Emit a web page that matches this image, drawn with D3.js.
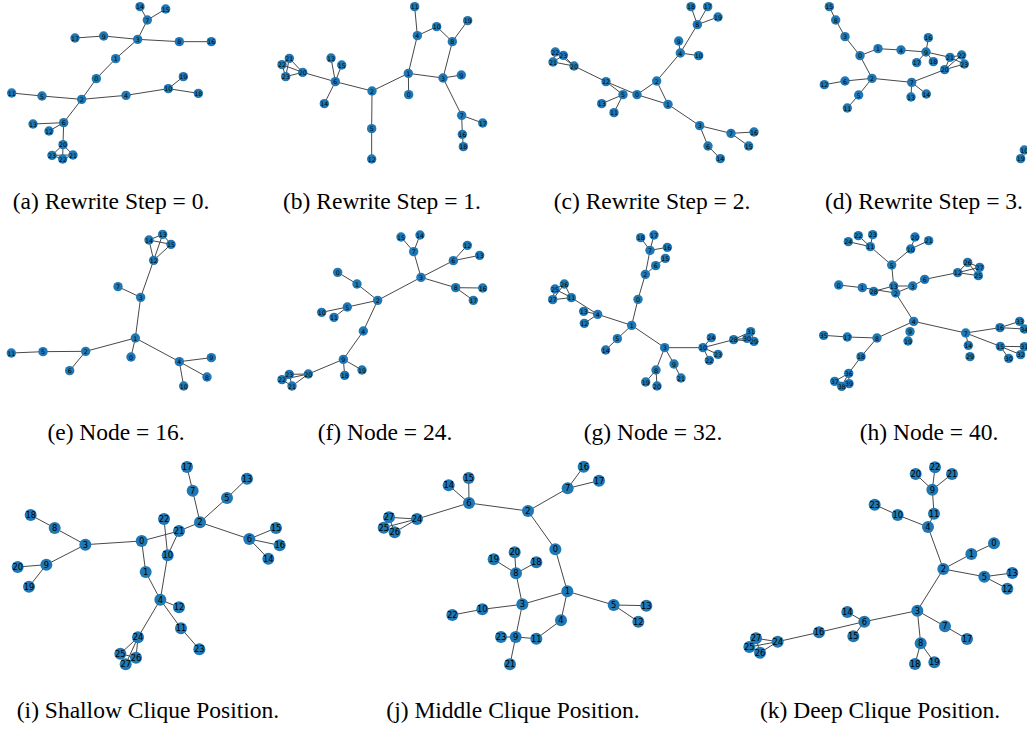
<!DOCTYPE html>
<html>
<head>
<meta charset="utf-8">
<script src="https://cdn.jsdelivr.net/npm/d3@7"></script>
<style>
    body { margin: 0; background: #fff; }
    svg { display: block; }
    .edge { stroke: #484848; stroke-width: 1; }
    .node circle { fill: #1f78b4; }
    .node text { font-family: "DejaVu Sans", sans-serif; fill: #000; text-anchor: middle; dominant-baseline: central; }
    .caption { font-family: "Liberation Serif", "Times New Roman", serif; font-size: 23.5px; fill: #000; text-anchor: middle; }
</style>
</head>
<body>
<script>
// node = [id, x, y] in layout units, edge = [source, target]
const nodesA = [[14,420,20],[15,497,27],[7,442,60],[17,225,114],[9,311,108],[3,413,118],[8,538,125],[16,634,125],[1,347,176],[0,289,236],[19,550,230],[10,505,266],[18,595,280],[11,35,279],[5,126,288],[2,245,298],[4,378,286],[13,99,372],[6,191,368],[12,147,393],[20,189,434],[23,156,466],[22,188,477],[21,219,465]];
const edgesA = [[14,7],[15,7],[7,3],[17,9],[9,3],[3,8],[8,16],[3,1],[1,0],[0,2],[11,5],[5,2],[2,4],[4,10],[10,19],[10,18],[2,6],[6,13],[6,12],[6,20],[20,21],[20,22],[20,23],[21,22],[21,23],[22,23]];

const nodesB = [[11,464,20],[19,623,62],[10,530,80],[4,472,107],[8,577,125],[21,88,175],[22,66,194],[23,77,230],[20,128,217],[13,213,174],[15,245,195],[6,226,245],[1,445,220],[3,549,234],[9,604,225],[2,336,273],[0,446,284],[14,193,311],[7,605,346],[17,668,369],[5,335,386],[16,607,403],[18,610,440],[12,335,477]];
const edgesB = [[11,4],[4,10],[10,8],[8,19],[8,3],[4,1],[1,3],[3,9],[1,0],[1,2],[2,6],[2,5],[5,12],[6,13],[6,15],[6,14],[6,20],[20,21],[20,22],[20,23],[21,22],[21,23],[22,23],[3,7],[7,17],[7,16],[16,18]];

const nodesC = [[18,483,20],[17,533,20],[8,502,74],[19,564,51],[9,446,123],[4,451,159],[10,506,167],[22,76,156],[23,100,166],[21,69,186],[20,132,198],[12,228,245],[2,380,243],[5,279,284],[0,321,284],[13,215,311],[1,414,313],[11,252,338],[3,509,377],[7,603,400],[16,672,396],[6,534,438],[15,656,438],[14,571,476]];
const edgesC = [[18,8],[17,8],[19,8],[8,4],[4,9],[4,10],[4,2],[2,0],[2,1],[0,1],[12,20],[12,0],[12,5],[5,13],[5,11],[1,3],[3,7],[3,6],[7,16],[7,15],[6,14],[20,21],[20,22],[20,23],[21,22],[21,23],[22,23]];

const nodesD = [[15,118,20],[8,137,60],[3,165,110],[0,210,167],[1,264,146],[4,333,150],[16,415,113],[9,408,156],[17,380,188],[18,430,185],[21,480,172],[22,515,165],[23,523,192],[20,464,209],[2,246,235],[6,165,243],[12,103,254],[7,365,247],[14,409,282],[13,363,291],[5,206,285],[11,172,324],[10,703,450],[19,692,476]];
const edgesD = [[15,8],[8,3],[3,0],[0,1],[1,4],[4,9],[9,16],[9,17],[9,18],[9,21],[0,2],[2,6],[6,12],[2,5],[5,11],[2,7],[7,13],[7,14],[7,20],[20,21],[20,22],[20,23],[21,22],[21,23],[22,23],[10,19]];

const nodesE = [[13,488,28],[14,447,45],[15,513,58],[12,461,106],[7,354,185],[3,422,217],[1,406,339],[0,393,396],[11,34,384],[5,129,380],[2,257,379],[6,209,437],[4,538,410],[9,634,398],[8,621,456],[10,551,483]];
const edgesE = [[12,13],[12,14],[12,15],[13,14],[13,15],[14,15],[12,3],[3,7],[3,1],[1,0],[1,2],[2,5],[5,11],[2,6],[1,4],[4,9],[4,8],[4,10]];

const nodesF = [[15,423,36],[14,480,30],[7,461,80],[12,622,61],[6,580,107],[13,659,91],[0,233,142],[3,483,157],[1,291,177],[8,587,188],[16,668,189],[17,640,226],[2,353,226],[5,262,246],[10,185,262],[11,222,277],[4,310,318],[9,250,403],[19,306,435],[18,254,451],[20,145,447],[23,88,448],[22,66,464],[21,96,483]];
const edgesF = [[15,7],[14,7],[7,3],[3,6],[6,12],[6,13],[3,8],[8,16],[8,17],[3,2],[2,1],[1,0],[2,5],[5,10],[5,11],[2,4],[4,9],[9,19],[9,18],[9,20],[20,21],[20,22],[20,23],[21,22],[21,23],[22,23]];

const nodesG = [[18,332,38],[17,372,30],[7,360,76],[16,412,67],[15,406,100],[6,377,122],[2,346,148],[26,103,177],[25,75,192],[11,124,218],[27,68,224],[0,324,223],[13,161,259],[4,203,268],[12,163,295],[1,305,301],[5,262,341],[24,544,338],[31,662,320],[28,611,344],[30,651,340],[29,672,349],[14,227,375],[3,404,368],[10,519,368],[23,564,388],[22,538,406],[9,432,417],[8,378,435],[21,453,459],[19,347,471],[20,381,483]];
const edgesG = [[18,7],[17,7],[16,7],[7,2],[2,6],[6,15],[2,0],[0,1],[1,4],[4,13],[4,12],[4,11],[11,25],[11,26],[11,27],[25,26],[25,27],[26,27],[1,5],[5,14],[1,3],[3,10],[3,8],[3,9],[9,21],[8,19],[8,20],[10,24],[10,23],[10,22],[10,28],[28,29],[28,30],[28,31],[29,30],[29,31],[30,31]];

const nodesH = [[24,175,50],[22,205,32],[23,248,29],[11,241,65],[20,375,36],[21,416,47],[10,362,72],[5,305,120],[26,533,112],[27,569,127],[25,565,152],[12,503,143],[6,404,163],[0,146,180],[1,217,188],[13,311,183],[3,368,183],[28,251,199],[2,317,204],[4,371,289],[9,360,320],[19,354,348],[35,101,331],[17,172,336],[8,261,339],[7,527,324],[16,630,308],[33,689,289],[34,703,312],[14,535,361],[15,631,364],[31,703,365],[32,692,389],[29,540,395],[30,656,400],[18,213,395],[36,176,445],[37,134,469],[38,155,484],[39,177,476]];
const edgesH = [[24,11],[22,11],[23,11],[11,5],[5,10],[10,20],[10,21],[5,13],[13,2],[2,4],[0,1],[1,2],[28,13],[13,3],[3,6],[2,3],[6,12],[12,26],[12,27],[12,25],[26,27],[26,25],[27,25],[4,8],[8,17],[17,35],[8,18],[18,36],[36,37],[36,38],[36,39],[37,38],[37,39],[38,39],[4,7],[7,16],[7,15],[7,14],[16,33],[16,34],[33,34],[15,31],[15,32],[15,30],[31,32]];

const nodesI = [[17,561,36],[13,741,71],[7,578,107],[5,681,129],[18,92,180],[22,492,192],[2,600,202],[8,164,219],[15,828,219],[21,537,228],[6,748,252],[0,425,258],[3,256,269],[16,839,271],[10,503,301],[14,805,311],[20,53,336],[9,139,329],[1,437,351],[19,87,395],[4,481,434],[12,537,457],[11,543,520],[24,414,547],[25,361,596],[26,408,608],[27,377,628],[23,598,583]];
const edgesI = [[17,7],[7,2],[13,5],[5,2],[2,21],[21,0],[0,3],[3,8],[8,18],[3,9],[9,20],[9,19],[2,6],[6,15],[6,16],[6,14],[0,1],[1,4],[4,10],[10,21],[10,22],[4,12],[4,11],[11,23],[4,24],[24,25],[24,26],[24,27],[25,26],[25,27],[26,27]];

const nodesJ = [[16,761,35],[15,416,69],[14,356,91],[17,807,77],[7,713,100],[6,417,144],[2,594,168],[27,177,187],[24,261,192],[25,161,218],[26,194,232],[0,676,283],[20,554,292],[19,491,313],[18,619,322],[8,558,355],[1,712,409],[3,577,448],[5,851,450],[13,949,452],[10,457,463],[22,367,480],[4,693,496],[12,925,500],[23,513,546],[9,557,546],[11,619,551],[21,540,628]];
const edgesJ = [[16,7],[17,7],[7,2],[2,6],[6,14],[6,15],[6,24],[24,25],[24,26],[24,27],[25,26],[25,27],[26,27],[2,0],[0,1],[1,3],[1,5],[5,13],[5,12],[1,4],[4,11],[11,9],[9,3],[9,23],[9,21],[3,8],[8,19],[8,20],[8,18],[3,10],[10,22]];

const nodesK = [[22,645,37],[20,587,57],[21,696,57],[9,637,104],[23,464,149],[11,642,176],[10,533,180],[4,624,216],[0,822,265],[1,754,297],[2,670,342],[13,877,354],[5,793,365],[12,862,401],[14,382,471],[3,592,467],[6,433,500],[7,675,514],[16,297,532],[15,400,544],[17,741,552],[27,108,550],[24,173,560],[25,88,576],[8,602,565],[26,120,593],[18,585,627],[19,643,622]];
const edgesK = [[22,9],[20,9],[21,9],[9,11],[11,4],[4,10],[10,23],[4,2],[2,1],[1,0],[2,5],[5,13],[5,12],[2,3],[3,6],[6,14],[6,15],[6,16],[16,24],[24,25],[24,26],[24,27],[25,26],[25,27],[26,27],[3,7],[7,17],[3,8],[8,18],[8,19]];

const captions = [
    '(a) Rewrite Step = 0.', '(b) Rewrite Step = 1.', '(c) Rewrite Step = 2.', '(d) Rewrite Step = 3.',
    '(e) Node = 16.', '(f) Node = 24.', '(g) Node = 32.', '(h) Node = 40.',
    '(i) Shallow Clique Position.', '(j) Middle Clique Position.', '(k) Deep Clique Position.'
];

// panel boxes on the page; layout units are 3x page pixels
let panels = [
    {nodes: nodesA, edges: edgesA, x0: 0,   y0: 0,   w: 230, h: 170, r: 4.7, fs: 6.3, cx: 111, cy: 209},
    {nodes: nodesB, edges: edgesB, x0: 260, y0: 0,   w: 240, h: 170, r: 4.7, fs: 6.3, cx: 382, cy: 209},
    {nodes: nodesC, edges: edgesC, x0: 530, y0: 0,   w: 240, h: 170, r: 4.7, fs: 6.3, cx: 652, cy: 209},
    {nodes: nodesD, edges: edgesD, x0: 790, y0: 0,   w: 237, h: 170, r: 4.7, fs: 6.3, cx: 924, cy: 209},
    {nodes: nodesE, edges: edgesE, x0: 0,   y0: 225, w: 230, h: 170, r: 4.7, fs: 6.3, cx: 116, cy: 440},
    {nodes: nodesF, edges: edgesF, x0: 260, y0: 225, w: 240, h: 170, r: 4.7, fs: 6.3, cx: 385, cy: 440},
    {nodes: nodesG, edges: edgesG, x0: 530, y0: 225, w: 240, h: 170, r: 4.7, fs: 6.3, cx: 653, cy: 440},
    {nodes: nodesH, edges: edgesH, x0: 790, y0: 225, w: 237, h: 170, r: 4.7, fs: 6.3, cx: 929, cy: 440},
    {nodes: nodesI, edges: edgesI, x0: 0,   y0: 455, w: 300, h: 220, r: 6,   fs: 8.3, cx: 148, cy: 718},
    {nodes: nodesJ, edges: edgesJ, x0: 330, y0: 455, w: 330, h: 220, r: 6,   fs: 8.3, cx: 513, cy: 718},
    {nodes: nodesK, edges: edgesK, x0: 720, y0: 455, w: 307, h: 220, r: 6,   fs: 8.3, cx: 880, cy: 718}
];

let svg = d3.select('body').append('svg')
    .attr('width', 1027)
    .attr('height', 730);

panels.forEach((p, i) => {
    let x = d3.scaleLinear().domain([0, p.w * 3]).range([p.x0, p.x0 + p.w]),
        y = d3.scaleLinear().domain([0, p.h * 3]).range([p.y0, p.y0 + p.h]),
        pos = new Map(p.nodes.map(d => [d[0], d]));
    let g = svg.append('g').attr('class', 'panel');

    g.selectAll('line').data(p.edges).join('line')
        .attr('class', 'edge')
        .attr('x1', d => x(pos.get(d[0])[1]))
        .attr('y1', d => y(pos.get(d[0])[2]))
        .attr('x2', d => x(pos.get(d[1])[1]))
        .attr('y2', d => y(pos.get(d[1])[2]));

    let nodes = g.selectAll('g.node')
        .data(p.nodes.slice().sort((a, b) => a[0] - b[0]))
        .join('g')
        .attr('class', 'node')
        .attr('transform', d => `translate(${x(d[1])},${y(d[2])})`);
    nodes.append('circle').attr('r', p.r);
    nodes.append('text')
        .style('font-size', p.fs + 'px')
        .text(d => d[0]);

    svg.append('text')
        .attr('class', 'caption')
        .attr('x', p.cx)
        .attr('y', p.cy)
        .text(captions[i]);
});
</script>
</body>
</html>
